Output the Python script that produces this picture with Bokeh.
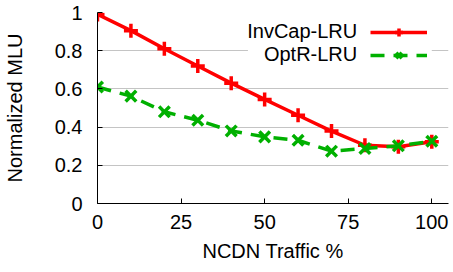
from bokeh.plotting import figure
from bokeh.models import Range1d, Legend, LegendItem, Label, BoxAnnotation, FixedTicker
from bokeh.embed import file_html
from bokeh.resources import INLINE

ncdn = [0, 10, 20, 30, 40, 50, 60, 70, 80, 90, 100]
invcap = [0.99, 0.905, 0.81, 0.72, 0.63, 0.545, 0.462, 0.379, 0.305, 0.297, 0.323]
optr = [0.61, 0.562, 0.48, 0.436, 0.38, 0.349, 0.331, 0.274, 0.288, 0.302, 0.326]
x_ticks = [0, 25, 50, 75, 100]
y_ticks = [0, 0.2, 0.4, 0.6, 0.8, 1.0]
series_names = ["InvCap-LRU", "OptR-LRU"]

FONT = "Liberation Sans"
FS = "20px"
RED = "#ff0000"
GREEN = "#00b000"

p = figure(width=449, height=270, output_backend="svg", toolbar_location=None,
           x_range=Range1d(0, 105.0), y_range=Range1d(0, 1.0),
           min_border_left=95, min_border_right=1, min_border_top=12, min_border_bottom=67)
p.outline_line_color = None
p.background_fill_color = "white"

p.xgrid.grid_line_color = None
p.ygrid.grid_line_color = "#c4c4c4"
p.ygrid.grid_line_width = 1

for ax in (p.xaxis[0], p.yaxis[0]):
    ax.axis_line_color = "black"
    ax.axis_line_width = 1
    ax.major_tick_in = 5
    ax.major_tick_out = 0
    ax.minor_tick_line_color = None
    ax.major_label_text_font = FONT
    ax.major_label_text_font_size = FS
    ax.major_label_text_color = "black"
    ax.axis_label_text_font = FONT
    ax.axis_label_text_font_size = FS
    ax.axis_label_text_font_style = "normal"
    ax.axis_label_text_color = "black"

p.xaxis.ticker = FixedTicker(ticks=x_ticks)
p.yaxis.ticker = FixedTicker(ticks=y_ticks)
p.yaxis.major_label_overrides = {0: "0", 1: "1", 0.2: "0.2", 0.4: "0.4", 0.6: "0.6", 0.8: "0.8"}
p.xaxis.axis_label = "NCDN Traffic %"
p.yaxis.axis_label = "Normalized MLU"
p.xaxis.major_label_standoff = 11
p.xaxis.axis_label_standoff = 8
p.yaxis.major_label_standoff = 15
p.yaxis.axis_label_standoff = 26

box = BoxAnnotation(left=45, right=100, bottom=0.74, top=0.965, fill_color="white",
                    fill_alpha=1, line_color=None, level="underlay")
p.add_layout(box)

l1 = p.line(ncdn, invcap, line_color=RED, line_width=3.5)
m1 = p.scatter(ncdn, invcap, marker="cross", size=14, line_color=RED, line_width=3.5)
l2 = p.line(ncdn, optr, line_color=GREEN, line_width=3.5, line_dash="14 9")
m2 = p.scatter(ncdn, optr, marker="x", size=15, line_color=GREEN, line_width=3.5)

legend = Legend(items=[LegendItem(label=" ", renderers=[l1, m1]),
                       LegendItem(label=" ", renderers=[l2, m2])],
                location=(273, 138), glyph_width=57, glyph_height=20, spacing=3,
                padding=0, margin=0, label_width=0, label_standoff=0,
                label_text_font_size="1px", border_line_color=None,
                background_fill_color="white", background_fill_alpha=1)
p.add_layout(legend)

for name, yv in zip(series_names, [0.905, 0.785]):
    p.add_layout(Label(x=77.7, y=yv, text=name, text_align="right", text_baseline="middle",
                       text_font=FONT, text_font_size=FS, text_color="black"))

open("out.html", "w").write(file_html(p, INLINE))
